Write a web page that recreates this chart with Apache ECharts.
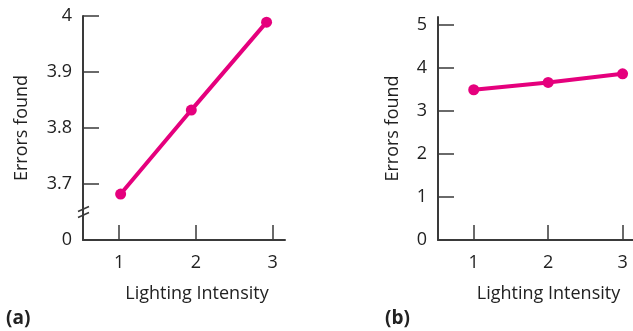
<!DOCTYPE html>
<html>
<head>
<meta charset="utf-8">
<script src="https://cdn.jsdelivr.net/npm/echarts@6/dist/echarts.min.js"></script>
<style>
html,body{margin:0;padding:0;background:#fff;}
#chart{width:633px;height:331px;}
</style>
</head>
<body>
<div id="chart"></div>
<script>
// Panel (a): zoomed axis (break between 0 and 3.7)
const xA = [1.02, 1.94, 2.92];
const yA = [3.682, 3.832, 3.989];
const yTicksA = [3.6, 3.7, 3.8, 3.9, 4.0];
const yTickLabelsA = ['0', '3.7', '3.8', '3.9', '4'];
// Panel (b): full axis from 0
const xB = [1, 2, 3];
const yB = [3.49, 3.66, 3.86];
const yTicksB = [0, 1, 2, 3, 4, 5];
const xTicks = [1, 2, 3];
const xName = 'Lighting Intensity';
const yName = 'Errors found';
const panelLabels = ['(a)', '(b)'];

const FONT = 'Open Sans';
const FS = 18;
const TXT = '#222';
const AX = '#3a3a3a';
const MAG = '#e5007d';

const chart = echarts.init(document.getElementById('chart'), null, {renderer: 'canvas'});

function xAxisCfg(gi, min, max) {
  return {
    type: 'value', gridIndex: gi, min: min, max: max,
    name: xName, nameLocation: 'middle', nameGap: 45,
    nameTextStyle: {fontFamily: FONT, fontSize: FS, color: TXT, padding: [0, 0, 0, 26]},
    axisLine: {show: true, onZero: false, lineStyle: {color: AX, width: 2}},
    axisTick: {show: true, inside: true, length: 15, customValues: xTicks, lineStyle: {color: AX, width: 1.5}},
    axisLabel: {customValues: xTicks, fontFamily: FONT, fontSize: FS, color: TXT, margin: 14},
    splitLine: {show: false}
  };
}
function yAxisCfg(gi, min, max, ticks, fmt, gap) {
  return {
    type: 'value', gridIndex: gi, min: min, max: max,
    name: yName, nameLocation: 'middle', nameGap: gap, nameRotate: 90,
    nameTextStyle: {fontFamily: FONT, fontSize: FS, color: TXT},
    axisLine: {show: true, onZero: false, lineStyle: {color: AX, width: 2}},
    axisTick: {show: true, inside: true, length: 16, customValues: ticks, lineStyle: {color: AX, width: 1.5}},
    axisLabel: {customValues: ticks, formatter: fmt, fontFamily: FONT, fontSize: FS, color: TXT, margin: 11},
    splitLine: {show: false}
  };
}

const option = {
  animation: false,
  backgroundColor: '#fff',
  grid: [
    {left: 83, top: 16, width: 202, height: 224},
    {left: 438, top: 17, width: 200, height: 223}
  ],
  xAxis: [xAxisCfg(0, 0.53, 3.16), xAxisCfg(1, 0.52, 3.14)],
  yAxis: [
    yAxisCfg(0, 3.6, 4.0, yTicksA, function (v) {
      let best = 0;
      yTicksA.forEach((t, i) => { if (Math.abs(t - v) < Math.abs(yTicksA[best] - v)) best = i; });
      return yTickLabelsA[best];
    }, 52),
    yAxisCfg(1, 0, 5.18, yTicksB, function (v) { return String(Math.round(v)); }, 36)
  ],
  series: [
    {type: 'line', xAxisIndex: 0, yAxisIndex: 0, data: xA.map((x, i) => [x, yA[i]]),
     symbol: 'circle', symbolSize: 11, lineStyle: {color: MAG, width: 4}, itemStyle: {color: MAG}},
    {type: 'line', xAxisIndex: 1, yAxisIndex: 1, data: xB.map((x, i) => [x, yB[i]]),
     symbol: 'circle', symbolSize: 11, lineStyle: {color: MAG, width: 4}, itemStyle: {color: MAG}}
  ],
  graphic: [
    {type: 'text', left: 6, top: 309, style: {text: panelLabels[0], fontFamily: FONT, fontSize: 19, fontWeight: 'bold', fill: TXT}},
    {type: 'text', left: 385, top: 309, style: {text: panelLabels[1], fontFamily: FONT, fontSize: 19, fontWeight: 'bold', fill: TXT}}
  ]
};
chart.setOption(option);

// axis break marks on panel (a), placed via the axis scale
const yBreak = chart.convertToPixel({yAxisIndex: 0}, 3.65);
const xAxisPx = chart.convertToPixel({xAxisIndex: 0}, 0.53);
const breakLines = [-3, 3].map(d => ({
  type: 'line',
  shape: {x1: xAxisPx - 5, y1: yBreak + d + 2.5, x2: xAxisPx + 6, y2: yBreak + d - 2.5},
  style: {stroke: AX, lineWidth: 1.5}
}));
chart.setOption({graphic: option.graphic.concat(breakLines)});
</script>
</body>
</html>
